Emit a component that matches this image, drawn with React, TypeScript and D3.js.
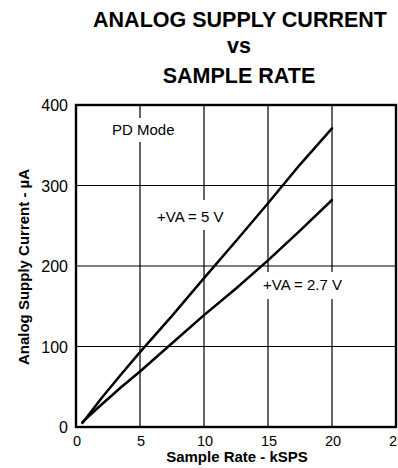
import React from "react";
import * as d3 from "d3";

const xTicks = [0, 5, 10, 15, 20, 25];
const yTicks = [0, 100, 200, 300, 400];
const rate5V = [0.5, 2, 3.5, 5, 7.5, 10, 12.5, 15, 17.5, 20];
const current5V = [5, 36, 65, 93, 138, 185, 231, 278, 326, 371];
const rate27V = [0.5, 2, 3.5, 5, 7.5, 10, 12.5, 15, 17.5, 20];
const current27V = [6, 28, 49, 69, 104, 139, 172, 207, 244, 282];
const titleLines = ["ANALOG SUPPLY CURRENT", "vs", "SAMPLE RATE"];
const xLabel = "Sample Rate - kSPS";
const yLabel = "Analog Supply Current - \u00b5A";

const FONT = "'Liberation Sans', Arial, Helvetica, sans-serif";

export default function App() {
  const W = 398;
  const H = 468;
  const x = d3.scaleLinear().domain([0, 25]).range([76, 396]);
  const y = d3.scaleLinear().domain([0, 400]).range([427, 105]);
  const line = d3
    .line<[number, number]>()
    .x((d) => x(d[0]))
    .y((d) => y(d[1]));
  const s5 = rate5V.map((r, i) => [r, current5V[i]] as [number, number]);
  const s27 = rate27V.map((r, i) => [r, current27V[i]] as [number, number]);

  const labels = [
    { text: "PD Mode", x: 112, y: 135 },
    { text: "+VA = 5 V", x: 157, y: 221.5 },
    { text: "+VA = 2.7 V", x: 263, y: 289.5 },
  ];

  return (
    <svg
      width={W}
      height={H}
      style={{ position: "absolute", left: 0, top: 0, background: "#fff" }}
      fontFamily={FONT}
    >
      <rect x={0} y={0} width={W} height={H} fill="#fff" />
      {/* Title */}
      <text x={240} y={27} textAnchor="middle" fontSize={21.5} fontWeight="bold">
        {titleLines[0]}
      </text>
      <text x={239} y={53} textAnchor="middle" fontSize={21.5} fontWeight="bold">
        {titleLines[1]}
      </text>
      <text x={239} y={83} textAnchor="middle" fontSize={21.5} fontWeight="bold">
        {titleLines[2]}
      </text>

      {/* Grid */}
      {xTicks
        .filter((t) => t > 0 && t < 25)
        .map((t) => (
          <line
            key={"gx" + t}
            x1={x(t)}
            x2={x(t)}
            y1={y(0)}
            y2={y(400)}
            stroke="#000"
            strokeWidth={1.2}
          />
        ))}
      {yTicks
        .filter((t) => t > 0 && t < 400)
        .map((t) => (
          <line
            key={"gy" + t}
            x1={x(0)}
            x2={x(25)}
            y1={y(t)}
            y2={y(t)}
            stroke="#000"
            strokeWidth={1.2}
          />
        ))}

      {/* Label backgrounds */}
      <rect x={108} y={118} width={72} height={24} fill="#fff" />
      <rect x={154} y={200} width={74} height={30} fill="#fff" />
      <rect x={260} y={272} width={90} height={27} fill="#fff" />

      {/* Curves */}
      <path
        d={line(s5) || ""}
        fill="none"
        stroke="#000"
        strokeWidth={2.5}
        strokeLinejoin="round"
        strokeLinecap="round"
      />
      <path
        d={line(s27) || ""}
        fill="none"
        stroke="#000"
        strokeWidth={2.5}
        strokeLinejoin="round"
        strokeLinecap="round"
      />

      {/* Frame */}
      <rect
        x={x(0)}
        y={y(400)}
        width={x(25) - x(0)}
        height={y(0) - y(400)}
        fill="none"
        stroke="#000"
        strokeWidth={2.4}
      />

      {/* Annotations */}
      {labels.map((l) => (
        <text key={l.text} x={l.x} y={l.y} fontSize={15}>
          {l.text}
        </text>
      ))}

      {/* Y tick labels */}
      {yTicks.map((t) => (
        <text
          key={"yl" + t}
          x={68}
          y={y(t) + 6}
          textAnchor="end"
          fontSize={16}
        >
          {t}
        </text>
      ))}
      {/* X tick labels */}
      {xTicks.map((t) => (
        <text
          key={"xl" + t}
          x={x(t) + 1}
          y={446}
          textAnchor="middle"
          fontSize={14.5}
        >
          {t}
        </text>
      ))}

      {/* Axis titles */}
      <text
        x={237}
        y={462}
        textAnchor="middle"
        fontSize={15}
        fontWeight="bold"
      >
        {xLabel}
      </text>
      <text
        transform={`translate(29,267) rotate(-90)`}
        textAnchor="middle"
        fontSize={15}
        fontWeight="bold"
      >
        {yLabel}
      </text>
    </svg>
  );
}
